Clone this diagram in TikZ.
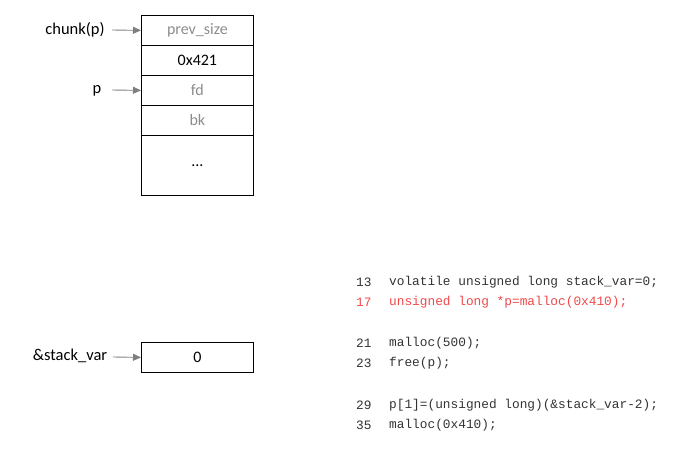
\documentclass[tikz,border=0pt]{standalone}
\usepackage{fontspec}
\setmainfont{Carlito}
\newfontfamily\codefont{Liberation Mono}
\usetikzlibrary{arrows.meta}
\definecolor{arrgray}{HTML}{7F7F7F}
\definecolor{txtgray}{HTML}{8C8C8C}
\definecolor{codered}{HTML}{F0484A}
\definecolor{codeblack}{HTML}{333333}
\tikzset{
  cell/.style={draw=black, line width=0.8pt, minimum width=112pt, minimum height=30pt, inner sep=0pt, anchor=north west, font=\fontsize{16}{18}\selectfont},
  ptr/.style={draw=arrgray, line width=0.9pt, -{Triangle[length=8pt,width=7pt]}},
  lbl/.style={font=\fontsize{16.5}{19}\selectfont, inner sep=0pt},
  codeln/.style={font=\codefont\fontsize{12.8}{15}\selectfont, anchor=west, inner sep=0pt, text=codeblack},
}
\begin{document}
\begin{tikzpicture}[x=1pt,y=-1pt]
\useasboundingbox (0,0) rectangle (680,450);
% chunk
\node[cell, text=txtgray] (c1) at (141,15) {prev\_size};
\node[cell] (c2) at (141,45) {0x421};
\node[cell, text=txtgray] (c3) at (141,75) {fd};
\node[cell, text=txtgray] (c4) at (141,105) {bk};
\node[cell, minimum height=60pt] (c5) at (141,135) {...};
% labels
\node[lbl] (lchunk) at (75,30) {chunk(p)};
\node[lbl] (lp) at (97,91) {p};
\coordinate (a1) at (112,30);
\coordinate (a2) at (112,90);
\draw[ptr] (a1) -- (c1.west);
\draw[ptr] (a2) -- (c3.west);
% stack var
\node[cell] (sv) at (141,342) {0};
\node[lbl] (lsv) at (70,356) {\&stack\_var};
\coordinate (a3) at (113,357);
\draw[ptr] (a3) -- (sv.west);
% code
\node[codeln] (n1) at (356,282) {13};
\node[codeln] (l1) at (389,282) {volatile unsigned long stack\_var=0;};
\node[codeln, text=codered] (n2) at (356,302) {17};
\node[codeln, text=codered] (l2) at (389,302) {unsigned long *p=malloc(0x410);};
\node[codeln] (n3) at (356,343) {21};
\node[codeln] (l3) at (389,343) {malloc(500);};
\node[codeln] (n4) at (356,363) {23};
\node[codeln] (l4) at (389,363) {free(p);};
\node[codeln] (n5) at (356,405) {29};
\node[codeln] (l5) at (389,405) {p[1]=(unsigned long)(\&stack\_var-2);};
\node[codeln] (n6) at (356,425) {35};
\node[codeln] (l6) at (389,425) {malloc(0x410);};
\end{tikzpicture}
\end{document}
